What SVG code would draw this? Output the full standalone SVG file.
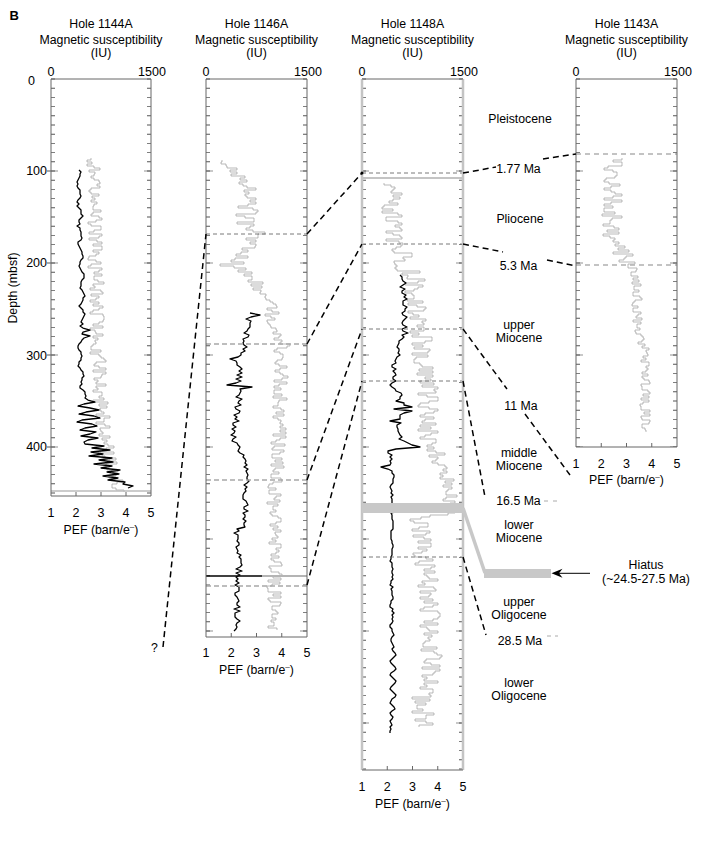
<svg xmlns="http://www.w3.org/2000/svg" width="718" height="843" viewBox="0 0 718 843">
<style>
text{font-family:"Liberation Sans",Arial,Helvetica,sans-serif;font-size:12.3px;fill:#000}
.m{text-anchor:middle}
.e{text-anchor:end}
.n{font-size:12.5px}
.ax{stroke:#666;stroke-width:1;fill:none}
.sd{stroke:#c4c4c4;stroke-width:2.5;fill:none}
.tk{stroke:#555;stroke-width:4;stroke-dasharray:0.9 8.3;fill:none}
.mj{stroke:#c8c8c8;stroke-width:7;stroke-dasharray:1.8 90.2;fill:none}
.g{stroke:#9c9c9c;stroke-width:0.7;fill:none}
.k{stroke:#000;stroke-width:1.3;fill:none;stroke-linejoin:round}
.hd{stroke:#555;stroke-width:0.8;stroke-dasharray:4 3;fill:none}
.hg{stroke:#a8a8a8;stroke-width:1.3;stroke-dasharray:5 3;fill:none}
.cn{stroke:#000;stroke-width:1.5;stroke-dasharray:6 4;fill:none}
.hb{fill:#c8c8c8}
.gd{stroke:#aaa;stroke-width:1;fill:none}
</style>
<rect width="718" height="843" fill="#fff"/>
<text x="9.5" y="19.5" font-weight="bold" style="font-size:13px">B</text>

<g id="depth-axis">
<text class="m n" x="31.5" y="84.5">0</text>
<text class="e n" x="47" y="175.3">100</text>
<text class="e n" x="47" y="267.3">200</text>
<text class="e n" x="47" y="359.5">300</text>
<text class="e n" x="47" y="451.3">400</text>
<text class="m" transform="translate(17,288) rotate(-90)">Depth (mbsf)</text>
</g>

<g id="hole-1144A">
<text class="m" x="101" y="28">Hole 1144A</text>
<text class="m" x="101" y="44">Magnetic susceptibility</text>
<text class="m" x="101" y="57">(IU)</text>
<text class="m n" x="51" y="76">0</text>
<text class="m n" x="152" y="76">1500</text>
<line class="mj" x1="54.5" y1="170.1" x2="54.5" y2="496"/>
<line class="mj" x1="147.5" y1="170.1" x2="147.5" y2="496"/>
<line class="tk" x1="53" y1="78.55" x2="53" y2="496"/>
<line class="tk" x1="149" y1="78.55" x2="149" y2="496"/>
<line x1="49" y1="170.55" x2="49" y2="496" stroke="#555" stroke-width="4" stroke-dasharray="0.9 91.1"/>
<path class="g" d="M91,158v2H87v2H92v2H87v2H94v2H100v2H89v2H95v2H94v2H91v2H94v2H99v2H100v2H97v2H100v2H91v2H89v2H91v2H99v2H92v2H95v2H91v2H97v2H94v2H93v2H93v2H101v2H93v2H91v2H99v2H102v2H96v2H88v2H91v2H101v2H101v2H94v2H89v2H102v2H99v2H89v2H97v2H102v2H93v2H102v2H102v2H93v2H99v2H96v2H89v2H88v2H96v2H101v2H91v2H88v2H102v2H99v2H94v2H102v2H94v2H94v2H98v2H104v2H93v2H95v2H90v2H101v2H103v2H91v2H99v2H96v2H90v2H99v2H93v2H103v2H99v2H93v2H90v2H103v2H104v2H104v2H103v2H99v2H93v2H103v2H90v2H95v2H96v2H103v2H93v2H98v2H95v2H96v2H93v2H91v2H91v2H101v2H90v2H99v2H101v2H104v2H106v2H96v2H94v2H99v2H106v2H93v2H106v2H102v2H101v2H94v2H98v2H96v2H106v2H96v2H98v2H93v2H102v2H102v2H99v2H104v2H93v2H108v2H99v2H107v2H100v2H101v2H104v2H96v2H110v2H104v2H104v2H96v2H105v2H110v2H100v2H101v2H103v2H99v2H110v2H102v2H107v2H104v2H108v2H114v2H106v2H100v2H114v2H102v2H105v2H116v2H109v2H117v2H106v2H106v2H107v2H118v2H113v2H116v2H109v2H112v2H123v2H117v2H112v2H112v2H116v2H124v2"/>
<polyline class="k" points="79,170 81,172 80,174 80,176 79,178 78,180 77,182 78,184 77,186 78,188 80,190 80,192 80,194 81,196 80,198 78,200 77,202 79,204 77,206 79,208 81,210 81,212 81,214 83,216 81,218 79,220 79,222 80,224 77,226 80,228 80,230 81,232 81,234 81,236 82,238 81,240 78,242 78,244 79,246 80,248 81,250 82,252 82,254 83,256 83,258 81,260 80,262 80,264 79,266 80,268 81,270 82,272 84,274 84,276 84,278 82,280 81,282 81,284 81,286 80,288 82,290 83,292 84,294 85,296 83,298 83,300 82,302 81,304 79,306 81,308 83,310 83,312 85,314 84,316 83,318 82,320 81,322 83,324 80,326 83,328 90,330 83,332 82,334 90,336 84,338 82,340 81,342 79,344 78,346 78,348 79,350 81,352 81,354 82,356 81,358 81,360 79,362 79,364 78,366 80,368 81,370 83,372 83,374 84,376 82,378 82,380 81,382 82,384 80,386 80,388 83,390 85,392 85,394 86,396 85,398 88,400 95,402 84,404 78,406 90,408 99,410 86,412 79,414 94,416 100,418 82,420 77,422 92,424 97,426 85,428 80,430 96,432 90,434 81,436 98,438 88,440 84,442 85,444 104,446 92,448 110,450 91,452 103,454 89,456 112,458 99,460 113,462 94,464 112,466 101,468 120,470 107,472 119,474 103,476 118,478 108,480 125,482 123,484 133,486 128,488"/>
<line x1="51" y1="491" x2="151" y2="491" stroke="#bbb" stroke-width="1.5"/>
<path class="ax" d="M51,79H151M51,79V496H151V79M76,496v-4M101,496v-4M126,496v-4"/>
<text class="m n" x="51" y="516.5">1</text>
<text class="m n" x="76" y="516.5">2</text>
<text class="m n" x="101" y="516.5">3</text>
<text class="m n" x="126" y="516.5">4</text>
<text class="m n" x="151" y="516.5">5</text>
<text class="m" x="101" y="533.5">PEF (barn/e<tspan style="font-size:8px" dy="-5">–</tspan><tspan dy="5">)</tspan></text>
</g>

<g id="hole-1146A">
<text class="m" x="256.5" y="28">Hole 1146A</text>
<text class="m" x="256.5" y="44">Magnetic susceptibility</text>
<text class="m" x="256.5" y="57">(IU)</text>
<text class="m n" x="206" y="76">0</text>
<text class="m n" x="308" y="76">1500</text>
<line class="mj" x1="209.5" y1="170.1" x2="209.5" y2="637"/>
<line class="mj" x1="303.5" y1="170.1" x2="303.5" y2="637"/>
<line class="tk" x1="208" y1="78.55" x2="208" y2="637"/>
<line class="tk" x1="305" y1="78.55" x2="305" y2="637"/>
<path class="g" d="M222,160v2H221v2H226v2H227v2H237v2H230v2H237v2H231v2H245v2H240v2H247v2H239v2H243v2H247v2H256v2H244v2H249v2H245v2H247v2H256v2H250v2H256v2H248v2H238v2H253v2H258v2H256v2H236v2H245v2H254v2H254v2H237v2H254v2H250v2H246v2H253v2H265v2H258v2H258v2H246v2H256v2H250v2H256v2H255v2H242v2H248v2H241v2H236v2H248v2H235v2H231v2H244v2H220v2H234v2H246v2H238v2H252v2H244v2H252v2H252v2H248v2H263v2H251v2H262v2H253v2H261v2H260v2H266v2H265v2H266v2H270v2H273v2H276v2H277v2H267v2H272v2H279v2H265v2H271v2H275v2H267v2H268v2H270v2H271v2H276v2H277v2H273v2H281v2H279v2H274v2H282v2H280v2H290v2H287v2H277v2H274v2H280v2H283v2H283v2H282v2H277v2H275v2H279v2H287v2H280v2H275v2H280v2H283v2H288v2H282v2H274v2H287v2H279v2H274v2H281v2H274v2H274v2H282v2H273v2H287v2H279v2H278v2H278v2H273v2H281v2H284v2H276v2H284v2H273v2H278v2H281v2H280v2H283v2H280v2H286v2H280v2H286v2H273v2H286v2H280v2H276v2H271v2H285v2H274v2H272v2H284v2H280v2H272v2H272v2H282v2H275v2H283v2H271v2H284v2H275v2H273v2H279v2H271v2H271v2H281v2H282v2H273v2H269v2H268v2H276v2H269v2H269v2H281v2H276v2H274v2H280v2H267v2H278v2H273v2H273v2H276v2H270v2H272v2H278v2H281v2H281v2H276v2H270v2H278v2H273v2H281v2H275v2H276v2H278v2H272v2H276v2H269v2H281v2H281v2H276v2H279v2H276v2H271v2H279v2H271v2H274v2H281v2H282v2H269v2H271v2H271v2H279v2H282v2H273v2H281v2H268v2H280v2H272v2H267v2H268v2H268v2H281v2H273v2H281v2H268v2H270v2H281v2H280v2H272v2H272v2H276v2H278v2H272v2H272v2H276v2H271v2H274v2H274v2H268v2H277v2"/>
<polyline class="k" points="250,313 260,315 251,317 246,319 251,321 250,323 250,325 250,327 248,329 247,331 244,333 249,335 248,337 243,339 244,341 243,343 244,345 247,347 243,349 245,351 241,353 241,355 238,357 230,359 236,361 237,363 237,365 240,367 242,369 239,371 242,373 237,375 242,377 236,379 241,381 236,383 227,385 252,387 240,389 241,391 240,393 239,395 236,397 242,399 239,401 238,403 241,405 235,407 236,409 240,411 239,413 234,415 237,417 235,419 239,421 233,423 233,425 236,427 232,429 235,431 234,433 231,435 236,437 233,439 232,441 237,443 238,445 240,447 239,449 238,451 240,453 244,455 243,457 245,459 246,461 245,463 247,465 244,467 248,469 246,471 247,473 248,475 247,477 247,479 249,481 247,483 244,485 247,487 245,489 246,491 244,493 243,495 243,497 243,499 246,501 247,503 248,505 244,507 244,509 248,511 243,513 245,515 245,517 243,519 246,521 244,523 244,525 245,527 237,529 239,531 234,533 238,535 238,537 238,539 237,541 239,543 239,545 236,547 237,549 238,551 237,553 241,555 239,557 241,559 241,561 241,563 242,565 240,567 236,569 242,571 236,573 240,575 236,577 238,579 236,581 239,583 235,585 239,587 239,589 239,591 235,593 235,595 237,597 238,599 239,601 237,603 237,605 240,607 234,609 240,611 235,613 235,615 235,617 237,619 240,621 237,623 236,625 237,627 236,629 234,631"/>
<path d="M206,576H262" stroke="#000" stroke-width="1.6"/>
<path d="M262,576H307" stroke="#b4b4b4" stroke-width="2"/>
<path class="hd" d="M206,234H307"/>
<path class="hg" d="M206,344H307M206,480H307M206,586H307"/>
<path class="ax" d="M206,79H307M206,79V637H307V79M231.25,637v-4M256.5,637v-4M281.75,637v-4"/>
<text class="m n" x="206" y="656.5">1</text>
<text class="m n" x="231.25" y="656.5">2</text>
<text class="m n" x="256.5" y="656.5">3</text>
<text class="m n" x="281.75" y="656.5">4</text>
<text class="m n" x="307" y="656.5">5</text>
<text class="m" x="256.5" y="673.5">PEF (barn/e<tspan style="font-size:8px" dy="-5">–</tspan><tspan dy="5">)</tspan></text>
</g>

<g id="hole-1148A">
<text class="m" x="412.5" y="28">Hole 1148A</text>
<text class="m" x="412.5" y="44">Magnetic susceptibility</text>
<text class="m" x="412.5" y="57">(IU)</text>
<text class="m n" x="362" y="76">0</text>
<text class="m n" x="464" y="76">1500</text>
<line class="mj" x1="365.5" y1="170.1" x2="365.5" y2="770"/>
<line class="mj" x1="459.5" y1="170.1" x2="459.5" y2="770"/>
<line class="tk" x1="364" y1="78.55" x2="364" y2="770"/>
<line class="tk" x1="461" y1="78.55" x2="461" y2="770"/>
<path d="M362,178H463" stroke="#c4c4c4" stroke-width="2"/>
<path class="g" d="M384,183v2H391v2H395v2H393v2H391v2H402v2H393v2H400v2H393v2H389v2H398v2H384v2H382v2H393v2H382v2H398v2H402v2H386v2H386v2H398v2H402v2H395v2H400v2H402v2H386v2H393v2H400v2H402v2H386v2H399v2H403v2H401v2H396v2H392v2H394v2H412v2H412v2H403v2H405v2H394v2H395v2H397v2H395v2H397v2H420v2H402v2H408v2H407v2H425v2H418v2H405v2H423v2H418v2H414v2H405v2H412v2H414v2H414v2H407v2H423v2H408v2H417v2H426v2H424v2H408v2H413v2H419v2H410v2H426v2H422v2H424v2H417v2H424v2H424v2H410v2H419v2H412v2H432v2H432v2H425v2H412v2H423v2H414v2H430v2H428v2H412v2H428v2H416v2H414v2H414v2H420v2H422v2H433v2H419v2H433v2H417v2H433v2H425v2H431v2H420v2H434v2H422v2H438v2H434v2H436v2H418v2H427v2H438v2H438v2H429v2H420v2H418v2H429v2H438v2H434v2H425v2H420v2H434v2H425v2H422v2H436v2H420v2H431v2H418v2H438v2H431v2H425v2H420v2H436v2H436v2H432v2H427v2H434v2H427v2H436v2H445v2H429v2H438v2H436v2H432v2H438v2H445v2H447v2H443v2H447v2H440v2H443v2H440v2H454v2H445v2H452v2H443v2H452v2H448v2H446v2H446v2H457v2H446v2H443v2H455v2H450v2H440v2H452v2H445v2H455v2H448v2H430v2H421v2H410v2H414v2H428v2H428v2H419v2H412v2H430v2H426v2H413v2H424v2H431v2H418v2H431v2H431v2H418v2H427v2H422v2H413v2H415v2H426v2H433v2H419v2H415v2H435v2H431v2H424v2H435v2H424v2H427v2H429v2H438v2H422v2H425v2H418v2H434v2H436v2H420v2H431v2H429v2H420v2H433v2H424v2H438v2H433v2H424v2H420v2H438v2H440v2H440v2H438v2H433v2H424v2H438v2H420v2H427v2H429v2H438v2H424v2H432v2H428v2H430v2H425v2H423v2H423v2H437v2H421v2H434v2H437v2H442v2H440v2H426v2H424v2H431v2H440v2H422v2H440v2H435v2H433v2H422v2H427v2H424v2H438v2H424v2H427v2H420v2H433v2H433v2H429v2H431v2H412v2H430v2H415v2H426v2H417v2H417v2H423v2H412v2H434v2H426v2H426v2H415v2H426v2H433v2H419v2"/>
<polyline class="k" points="400,275 402,277 402,279 403,281 406,283 403,285 400,287 405,289 402,291 402,293 406,295 404,297 407,299 403,301 403,303 403,305 407,307 405,309 405,311 402,313 403,315 407,317 405,319 403,321 402,323 403,325 407,327 402,329 403,331 408,333 402,335 404,337 402,339 399,341 399,343 398,345 397,347 399,349 399,351 398,353 400,355 397,357 396,359 395,361 396,363 392,365 392,367 396,369 393,371 395,373 396,375 393,377 393,379 396,381 392,383 390,385 392,387 395,389 396,391 401,393 402,395 400,397 400,399 396,401 404,403 404,405 412,407 394,409 412,411 404,413 400,415 400,417 400,419 390,421 401,423 397,425 397,427 398,429 398,431 399,433 400,435 402,437 399,439 404,441 408,443 412,445 420,447 396,449 388,451 388,453 392,455 390,457 392,459 390,461 391,463 390,465 381,467 388,469 392,471 392,473 394,475 394,477 393,479 393,481 393,483 391,485 390,487 391,489 392,491 391,493 393,495 391,497 392,499 392,501 392,503 393,505 391,507 392,509 398,511 391,513 392,515 392,517 392,519 393,521 393,523 393,525 393,527 393,529 391,531 391,533 391,535 391,537 391,539 392,541 392,543 393,545 393,547 392,549 392,551 392,553 392,555 391,557 391,559 390,561 392,563 392,565 392,567 393,569 392,571 392,573 393,575 392,577 393,579 391,581 391,583 390,585 393,587 391,589 392,591 392,593 392,595 393,597 393,599 391,601 391,603 390,605 390,607 393,609 392,611 394,613 392,615 393,617 392,619 393,621 392,623 390,625 390,627 392,629 392,631 393,633 394,635 392,637 391,639 391,641 392,643 393,645 394,647 392,649 393,651 395,653 396,655 394,657 392,659 390,661 391,663 393,665 395,667 396,669 394,671 391,673 390,675 392,677 394,679 396,681 395,683 393,685 391,687 390,689 392,691 394,693 396,695 395,697 392,699 391,701 390,703 392,705 394,707 395,709 392,711 390,713 391,715 393,717 392,719 390,721 391,723 392,725 390,727 391,729 390,731 390,733"/>
<path class="hd" d="M362,173H463M362,244H463M362,329H463M362,381H463M362,557H463"/>
<path class="sd" d="M362,79V770M463,79V770"/>
<path class="ax" d="M362,79H463M362,770H463M387.25,770v-4M412.5,770v-4M437.75,770v-4"/>
<text class="m n" x="362" y="790.5">1</text>
<text class="m n" x="387.25" y="790.5">2</text>
<text class="m n" x="412.5" y="790.5">3</text>
<text class="m n" x="437.75" y="790.5">4</text>
<text class="m n" x="463" y="790.5">5</text>
<text class="m" x="412.5" y="807.5">PEF (barn/e<tspan style="font-size:8px" dy="-5">–</tspan><tspan dy="5">)</tspan></text>
</g>

<g id="hole-1143A">
<text class="m" x="626.5" y="28">Hole 1143A</text>
<text class="m" x="626.5" y="44">Magnetic susceptibility</text>
<text class="m" x="626.5" y="57">(IU)</text>
<text class="m n" x="576" y="76">0</text>
<text class="m n" x="678" y="76">1500</text>
<line class="mj" x1="579.5" y1="170.1" x2="579.5" y2="447"/>
<line class="mj" x1="673.5" y1="170.1" x2="673.5" y2="447"/>
<line class="tk" x1="578" y1="78.55" x2="578" y2="447"/>
<line class="tk" x1="675" y1="78.55" x2="675" y2="447"/>
<path class="g" d="M622,158v2H613v2H622v2H622v2H608v2H604v2H613v2H617v2H617v2H615v2H606v2H604v2H609v2H620v2H611v2H604v2H611v2H615v2H622v2H613v2H604v2H622v2H611v2H604v2H613v2H604v2H604v2H615v2H602v2H622v2H612v2H610v2H610v2H603v2H614v2H619v2H607v2H619v2H603v2H610v2H615v2H613v2H619v2H615v2H625v2H618v2H629v2H613v2H633v2H626v2H624v2H619v2H635v2H628v2H628v2H637v2H636v2H631v2H631v2H638v2H633v2H639v2H632v2H641v2H634v2H634v2H639v2H633v2H633v2H640v2H642v2H635v2H633v2H632v2H638v2H633v2H633v2H641v2H638v2H636v2H642v2H633v2H641v2H637v2H637v2H640v2H635v2H636v2H641v2H643v2H644v2H642v2H638v2H645v2H642v2H649v2H646v2H647v2H648v2H643v2H646v2H641v2H649v2H649v2H646v2H648v2H646v2H642v2H648v2H642v2H644v2H649v2H650v2H641v2H642v2H642v2H648v2H650v2H643v2H649v2H641v2H649v2H643v2H640v2H641v2H641v2H650v2H644v2H650v2H641v2H642v2H650v2H649v2H642v2H642v2H645v2H646v2"/>
<path stroke="#b0b0b0" stroke-width="1.6" stroke-dasharray="5 4" fill="none" d="M576,154H677M576,265H677"/>
<path class="ax" d="M576,79H677M576,79V447H677V79M601.25,447v-4M626.5,447v-4M651.75,447v-4"/>
<text class="m n" x="576" y="467.5">1</text>
<text class="m n" x="601.25" y="467.5">2</text>
<text class="m n" x="626.5" y="467.5">3</text>
<text class="m n" x="651.75" y="467.5">4</text>
<text class="m n" x="677" y="467.5">5</text>
<text class="m" x="626.5" y="483.5">PEF (barn/e<tspan style="font-size:8px" dy="-5">–</tspan><tspan dy="5">)</tspan></text>
</g>

<g id="hiatus">
<rect class="hb" x="362" y="503" width="101" height="10"/>
<line x1="463" y1="508" x2="485" y2="573" stroke="#c8c8c8" stroke-width="3.5"/>
<rect class="hb" x="484" y="569" width="67" height="9"/>
<line x1="558" y1="573.3" x2="590" y2="573.3" stroke="#000" stroke-width="1"/>
<path d="M551.5,573.3L562.5,568.8L559,573.3L562.5,577.8Z" fill="#000"/>
<text class="m" x="646" y="569">Hiatus</text>
<text class="m" x="646" y="582.5">(~24.5-27.5 Ma)</text>
</g>

<g id="connectors">
<path class="cn" d="M163,647L206,234"/>
<path class="cn" d="M307,234L362,173"/>
<path class="cn" d="M307,344L362,244"/>
<path class="cn" d="M307,480L362,329"/>
<path class="cn" d="M307,585L362,381"/>
<path class="cn" d="M463,173L496,167M543,159L576,154"/>
<path class="cn" d="M463,244L503,252M547,260L576,266"/>
<path class="cn" d="M463,329L507,389M525,414L570,475"/>
<path class="cn" d="M463,381L485,497"/>
<path class="cn" d="M463,557L486,635"/>
<path class="gd" d="M544,501h4m5,0h4M547,636h4m4,0h3"/>
<circle cx="362" cy="173" r="1.5" fill="#000"/>
</g>

<g id="epoch-labels">
<text class="m" x="154.5" y="652">?</text>
<text class="m" x="520" y="123">Pleistocene</text>
<text class="m" x="518.5" y="172.5">1.77 Ma</text>
<text class="m" x="520" y="222.5">Pliocene</text>
<text class="m" x="518.5" y="269.5">5.3 Ma</text>
<text class="m" x="519" y="328.5">upper</text>
<text class="m" x="519" y="341.5">Miocene</text>
<text class="m" x="521" y="410">11 Ma</text>
<text class="m" x="519" y="456.5">middle</text>
<text class="m" x="519" y="469.5">Miocene</text>
<text class="m" x="518.5" y="505">16.5 Ma</text>
<text class="m" x="519" y="528.5">lower</text>
<text class="m" x="519" y="542">Miocene</text>
<text class="m" x="519" y="605.5">upper</text>
<text class="m" x="519" y="618.5">Oligocene</text>
<text class="m" x="520" y="645">28.5 Ma</text>
<text class="m" x="519" y="687">lower</text>
<text class="m" x="519" y="700">Oligocene</text>
</g>
</svg>
